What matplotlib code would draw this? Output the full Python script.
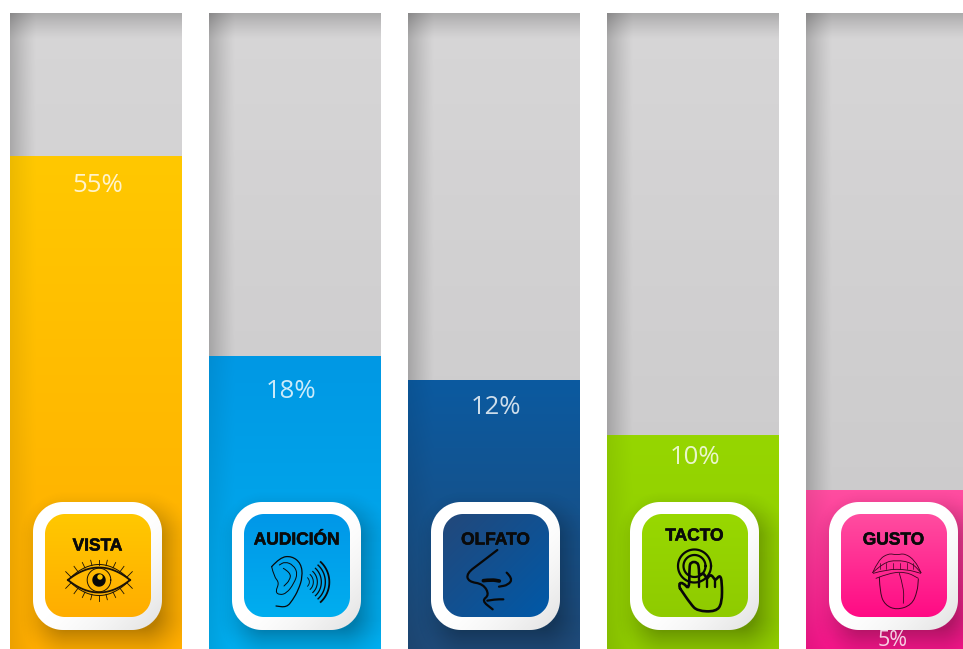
import matplotlib
matplotlib.use("Agg")
import matplotlib.pyplot as plt
import matplotlib.patheffects as pe
import numpy as np
from matplotlib.path import Path
from matplotlib.patches import PathPatch

W, H = 963, 649

# percentage of sensory input per sense
senses = ["VISTA", "AUDICIÓN", "OLFATO", "TACTO", "GUSTO"]
percent = [55, 18, 12, 10, 5]
full_level = 100

# the fill axis is not linear: height in pixels reached by each percentage
scale_percent = [0, 5, 10, 12, 18, 55, 100]
scale_height = [0, 159, 214, 269, 293, 493, 636]

# gradient colours per column: top, bottom, button top-left, button bottom-right
col_top = ["#ffc800", "#0098e4", "#0b5aa0", "#96d600", "#ff4da0"]
col_bottom = ["#ffad00", "#00aeef", "#1f4a78", "#8fcb00", "#f5158a"]
btn_top = ["#ffc800", "#0097e8", "#23487a", "#98d800", "#ff4da0"]
btn_bottom = ["#ffad00", "#00aeef", "#0059a8", "#8fcb00", "#ff0a84"]
label_y = [185, 391, 408, 457, 640]
label_dx = [2, -4, 2, 2, 1]
label_size = [18.5, 18.5, 18.5, 18.5, 15.5]
name_y = [546, 540, 540, 536, 540]


def to_px(v):
    return np.interp(v, scale_percent, scale_height)


def to_percent(h):
    return np.interp(h, scale_height, scale_percent)


def hex_rgb(c):
    return np.array(matplotlib.colors.to_rgb(c))


def rounded_dist(xx, yy, x0, y0, x1, y1, r):
    # signed distance to a rounded rectangle
    cx, cy = (x0 + x1) / 2, (y0 + y1) / 2
    qx = np.abs(xx - cx) - ((x1 - x0) / 2 - r)
    qy = np.abs(yy - cy) - ((y1 - y0) / 2 - r)
    out = np.hypot(np.maximum(qx, 0), np.maximum(qy, 0))
    return out + np.minimum(np.maximum(qx, qy), 0) - r


def column_image(top, bottom, height, left_dark, top_dark):
    h, w = int(height), 172
    t = np.linspace(0, 1, h)[:, None, None]
    img = top * (1 - t) + bottom * t
    xs = np.arange(w)[None, :, None]
    ys = np.arange(h)[:, None, None]
    img = img * (1 - left_dark * np.clip(1 - xs / 26, 0, 1) ** 1.2)
    img = img * (1 - top_dark * np.clip(1 - ys / 26, 0, 1) ** 1.2)
    return np.clip(img, 0, 1)


def curve(ax, pts, ox, oy, lw=1.5, color="#080808"):
    # smooth line through points given at 3x size, relative to an origin
    p = np.array(pts, float) / 3 + [ox, oy]
    codes = [Path.MOVETO]
    verts = [p[0]]
    for i in range(1, len(p) - 1):
        mid = (p[i] + p[i + 1]) / 2
        verts += [p[i], mid]
        codes += [Path.CURVE3, Path.CURVE3]
    verts += [p[-1]]
    codes += [Path.LINETO]
    ax.add_patch(PathPatch(Path(verts, codes), fill=False, ec=color, lw=lw,
                           capstyle="round", zorder=8))


def draw_eye(ax):
    cx, cy = 99, 580
    u = np.linspace(-1, 1, 80)
    for half, lw in [(15.5, 0.7), (12.5, 1.3)]:
        ax.plot(cx + 31 * u, cy - half * (1 - u**2), color="#1a1208", lw=lw, zorder=8)
        ax.plot(cx + 31 * u, cy + half * (1 - u**2), color="#1a1208", lw=lw, zorder=8)
    th = np.linspace(0, 2 * np.pi, 80)
    ax.plot(cx + 11.8 * np.cos(th), cy + 11.8 * np.sin(th), color="#1a1208", lw=0.7, zorder=8)
    ax.fill(cx + 6 * np.cos(th), cy + 6 * np.sin(th), color="#080808", zorder=8)
    ax.fill(cx + 1 + 2 * np.cos(th), cy - 3 + 2 * np.sin(th), color="#ffc800", zorder=9)
    for a in np.linspace(-0.9, 0.9, 9):
        for sign in (-1, 1):
            x0 = cx + 31 * a
            y0 = cy + sign * 15 * (1 - a**2)
            ax.plot([x0, x0 + 6 * a], [y0, y0 + sign * 5.5], color="#1a1208", lw=0.6, zorder=8)


def draw_ear(ax):
    ox, oy = 0, 480
    curve(ax, [(815, 260), (840, 232), (875, 228), (903, 250), (908, 290), (895, 330),
               (878, 360), (860, 382), (828, 378)], ox, oy, 0.9)
    curve(ax, [(815, 260), (822, 290), (838, 308), (826, 335), (838, 345), (860, 340),
               (882, 310), (893, 280), (880, 255), (855, 245), (838, 255)], ox, oy, 0.7)
    curve(ax, [(850, 265), (872, 278), (870, 300), (852, 318)], ox, oy, 0.7)
    for r, lw in zip([16, 28, 40, 52, 64, 76], [0.6, 0.7, 0.8, 0.9, 1.0, 1.3]):
        a = np.linspace(-0.85, 0.85, 30)
        ax.plot(304 + r / 3 * np.cos(a), 582 + r / 3 * np.sin(a) * 1.05,
                color="#0a0a0a", lw=lw, zorder=8)


def draw_nose(ax):
    ox, oy = 400, 480
    curve(ax, [(292, 210), (240, 250), (200, 280), (205, 305), (250, 312), (268, 345),
               (245, 362), (278, 388)], ox, oy, 1.6)
    curve(ax, [(320, 278), (338, 295), (325, 315), (297, 320)], ox, oy, 1.6)
    curve(ax, [(262, 362), (285, 358), (310, 358)], ox, oy, 1.6)
    curve(ax, [(250, 302), (275, 299), (298, 303)], ox, oy, 2.6)


def draw_hand(ax):
    ox, oy = 400, 480
    th = np.linspace(0, 2 * np.pi, 90)
    for r, lw in [(16.5, 1.6), (11, 1.6)]:
        ax.plot(694.5 + r * np.cos(th), 566 + r * np.sin(th), color="#080808", lw=lw, zorder=8)
    curve(ax, [(840, 325), (835, 310), (850, 308), (868, 330), (868, 262), (872, 246),
               (892, 246), (897, 262), (897, 290), (908, 278), (918, 290), (920, 298),
               (932, 282), (944, 298), (947, 300), (960, 285), (966, 305), (966, 370),
               (948, 395), (892, 393), (872, 372), (840, 325)], ox, oy, 1.9)
    curve(ax, [(897, 290), (897, 320)], ox, oy, 1.7)
    curve(ax, [(920, 298), (920, 320)], ox, oy, 1.7)
    curve(ax, [(944, 298), (944, 320)], ox, oy, 1.7)


def draw_mouth(ax):
    ox, oy = 790, 470
    curve(ax, [(248, 308), (265, 270), (295, 250), (320, 255), (345, 250), (375, 272),
               (393, 308)], ox, oy, 0.6, "#3a0620")
    curve(ax, [(248, 308), (280, 278), (320, 270), (365, 278), (393, 308)], ox, oy, 0.6, "#3a0620")
    curve(ax, [(250, 310), (290, 298), (350, 298), (392, 310)], ox, oy, 0.6, "#3a0620")
    curve(ax, [(258, 325), (300, 308), (350, 306), (385, 325)], ox, oy, 0.6, "#3a0620")
    for x in [270, 288, 308, 330, 350, 370]:
        curve(ax, [(x, 280), (x, 298)], ox, oy, 0.5, "#3a0620")
    curve(ax, [(268, 322), (270, 370), (285, 405), (320, 420), (365, 405), (382, 365),
               (385, 328)], ox, oy, 0.7, "#3a0620")
    curve(ax, [(328, 310), (342, 355), (340, 400)], ox, oy, 0.6, "#3a0620")


icons = [draw_eye, draw_ear, draw_nose, draw_hand, draw_mouth]

fig = plt.figure(figsize=(W / 100, H / 100), dpi=100)

# percentage axis: holds the real bars, on the non-linear fill scale
ax_val = fig.add_axes([0, 0, 1, 636 / H], zorder=0)
ax_val.set_xlim(-96 / 199, (W - 96) / 199)
ax_val.set_yscale("function", functions=(to_px, to_percent))
ax_val.set_ylim(0, full_level)
ax_val.axis("off")
x_pos = np.arange(len(senses))
back_bars = ax_val.bar(x_pos, [full_level] * len(senses), width=172 / 199, color="#d2d1d2")
fill_bars = ax_val.bar(x_pos, percent, width=172 / 199, color=col_top)

# pixel layer on top for the gradients, buttons and icons
ax = fig.add_axes([0, 0, 1, 1], zorder=1)
ax.set_autoscale_on(False)
ax.set_xlim(0, W)
ax.set_ylim(H, 0)
ax.axis("off")
ax.patch.set_alpha(0)

yy, xx = np.mgrid[0:H, 0:W] + 0.5

for i, name in enumerate(senses):
    left = 10 + 199 * i

    grey = column_image(hex_rgb("#d7d6d7"), hex_rgb("#c9c8c9"), 636, 0.2, 0.2)
    im = ax.imshow(grey, extent=(left, left + 172, H, 13), aspect="auto", zorder=1)
    im.set_clip_path(back_bars[i])

    # the colour gradient runs over the filled part only
    fill_h = to_px(percent[i])
    fill = column_image(hex_rgb(col_top[i]), hex_rgb(col_bottom[i]), fill_h, 0.07, 0)
    im = ax.imshow(fill, extent=(left, left + 172, H, H - fill_h), aspect="auto", zorder=2)
    im.set_clip_path(fill_bars[i])

    # soft drop shadow of the button
    x0, x1 = left + 23, left + 152
    y0, y1 = 502, 630
    d = rounded_dist(xx, yy, x0 + 8, y0 + 11, x1 + 8, y1 + 11, 26)
    alpha = 0.27 * np.clip(1 - (d + 12) / 36, 0, 1) ** 1.6
    shadow = np.zeros((H, W, 4))
    shadow[..., 3] = alpha * (xx >= left) * (xx < left + 172)
    ax.imshow(shadow, extent=(0, W, H, 0), aspect="auto", zorder=3)

    # white rim, slightly grey towards the lower right
    d = rounded_dist(xx, yy, x0, y0, x1, y1, 30)
    rim = np.ones((H, W, 4))
    u = np.clip(((xx - x0) + (yy - y0)) / (x1 - x0 + y1 - y0), 0, 1)
    rim[..., :3] = (1 - 0.12 * np.clip((u - 0.5) / 0.5, 0, 1) ** 1.5)[..., None]
    rim[..., 3] = np.clip(0.5 - d, 0, 1)
    ax.imshow(rim, extent=(0, W, H, 0), aspect="auto", zorder=4)

    # coloured face of the button
    bx0, bx1 = left + 35, left + 141
    by0, by1 = 514, 617
    d = rounded_dist(xx, yy, bx0, by0, bx1, by1, 20)
    face = np.zeros((H, W, 4))
    if i == 2:
        t = np.clip(((xx - bx0) + (yy - by0)) / (bx1 - bx0 + by1 - by0), 0, 1)
    else:
        t = np.clip((yy - by0) / (by1 - by0), 0, 1)
    face[..., :3] = hex_rgb(btn_top[i]) * (1 - t[..., None]) + hex_rgb(btn_bottom[i]) * t[..., None]
    face[..., 3] = np.clip(0.5 - d, 0, 1)
    ax.imshow(face, extent=(0, W, H, 0), aspect="auto", zorder=5)

    ax.text(left + 87.5, name_y[i], name, ha="center", va="center",
            fontsize=12.5, fontweight="bold", family="Liberation Sans", color="#0a0a0a",
            zorder=9, path_effects=[pe.withStroke(linewidth=0.4, foreground="#0a0a0a")])
    ax.text(left + 86 + label_dx[i], label_y[i], f"{percent[i]}%", ha="center", va="center",
            fontsize=label_size[i], family="Open Sans", color="white", alpha=0.8, zorder=9)
    icons[i](ax)

ax.set_xlim(0, W)
ax.set_ylim(H, 0)
fig.savefig("out.png", dpi=100)
